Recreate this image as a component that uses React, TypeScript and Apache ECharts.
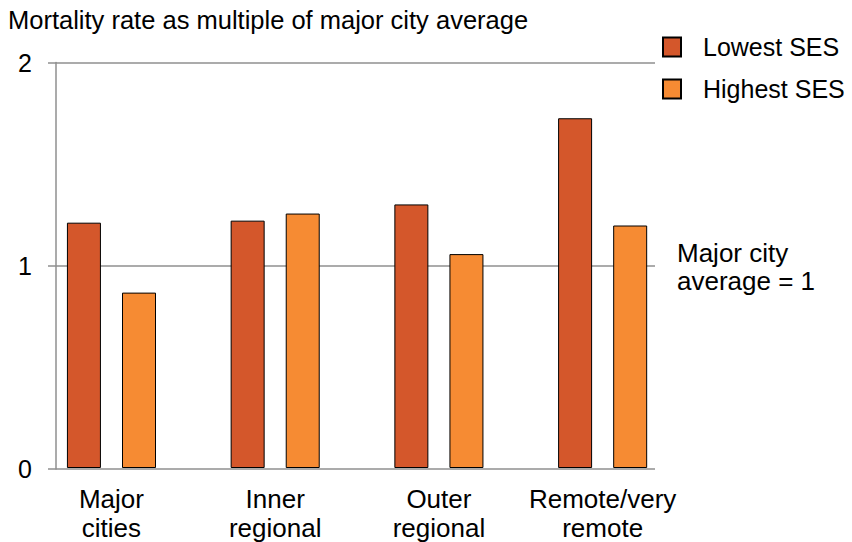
import React, { useEffect, useRef } from "react";
import * as echarts from "echarts";

const categories = ["Major\ncities", "Inner\nregional", "Outer\nregional", "Remote/very\nremote"];
const lowestSES = [1.21, 1.22, 1.3, 1.725];
const highestSES = [0.865, 1.255, 1.055, 1.196];
const yTicks = [0, 1, 2];
const titleText = "Mortality rate as multiple of major city average";
const noteText = "Major city\naverage = 1";

const FONT = "'Liberation Sans', Arial, sans-serif";
const GRAY = "#8f8f8f";

export default function App() {
  const ref = useRef<HTMLDivElement>(null);
  useEffect(() => {
    if (!ref.current) return;
    const chart = echarts.init(ref.current, undefined, { renderer: "svg" });
    chart.setOption({
      animation: false,
      backgroundColor: "#ffffff",
      textStyle: { fontFamily: FONT },
      legend: {
        orient: "vertical",
        left: 657,
        top: 29,
        icon: "rect",
        itemWidth: 18,
        itemHeight: 19,
        itemGap: 16,
        textStyle: { fontSize: 25, lineHeight: 26, color: "#000", fontFamily: FONT, padding: [0, 0, 0, 17] },
        data: ["Lowest SES", "Highest SES"],
      },
      graphic: [
        {
          type: "text",
          left: 8,
          top: 7,
          style: { text: titleText, fontSize: 25.5, fontFamily: FONT, fill: "#000" },
        },
        {
          type: "text",
          left: 677,
          top: 239,
          style: { text: noteText, fontSize: 26, lineHeight: 28, fontFamily: FONT, fill: "#000" },
        },
      ],
      grid: [
        { left: 29.6, right: 167.5, top: 62.5, bottom: 73 },
        { left: 56, right: 197, top: 62.5, bottom: 73 },
      ],
      xAxis: [
        {
          type: "category",
          gridIndex: 0,
          data: categories,
          axisLine: { show: false },
          axisTick: { show: false },
          axisLabel: { fontSize: 26, lineHeight: 28.5, color: "#000", fontFamily: FONT, margin: 17, interval: 0 },
        },
        { type: "value", gridIndex: 1, min: 0, max: 1, show: false },
      ],
      yAxis: [
        { type: "value", gridIndex: 0, min: 0, max: 2, show: false },
        {
          type: "value",
          gridIndex: 1,
          min: yTicks[0],
          max: yTicks[yTicks.length - 1],
          interval: 1,
          axisLine: { show: true, lineStyle: { color: GRAY, width: 1.5 } },
          axisTick: { show: true, length: 8, lineStyle: { color: GRAY, width: 1.5 } },
          splitLine: { show: true, lineStyle: { color: GRAY, width: 1.5 } },
          axisLabel: { fontSize: 25, color: "#000", fontFamily: FONT, margin: 24 },
        },
      ],
      series: [
        {
          name: "Lowest SES",
          type: "bar",
          xAxisIndex: 0,
          yAxisIndex: 0,
          data: lowestSES,
          barWidth: 34,
          barGap: "62%",
          itemStyle: { color: "#D4572B", borderColor: "#000", borderWidth: 1 },
        },
        {
          name: "Highest SES",
          type: "bar",
          xAxisIndex: 0,
          yAxisIndex: 0,
          data: highestSES,
          barWidth: 34,
          barGap: "62%",
          itemStyle: { color: "#F68B33", borderColor: "#000", borderWidth: 1 },
        },
      ],
    });
    return () => chart.dispose();
  }, []);
  return <div ref={ref} style={{ width: 852, height: 542, position: "absolute", left: 0, top: 0 }} />;
}
